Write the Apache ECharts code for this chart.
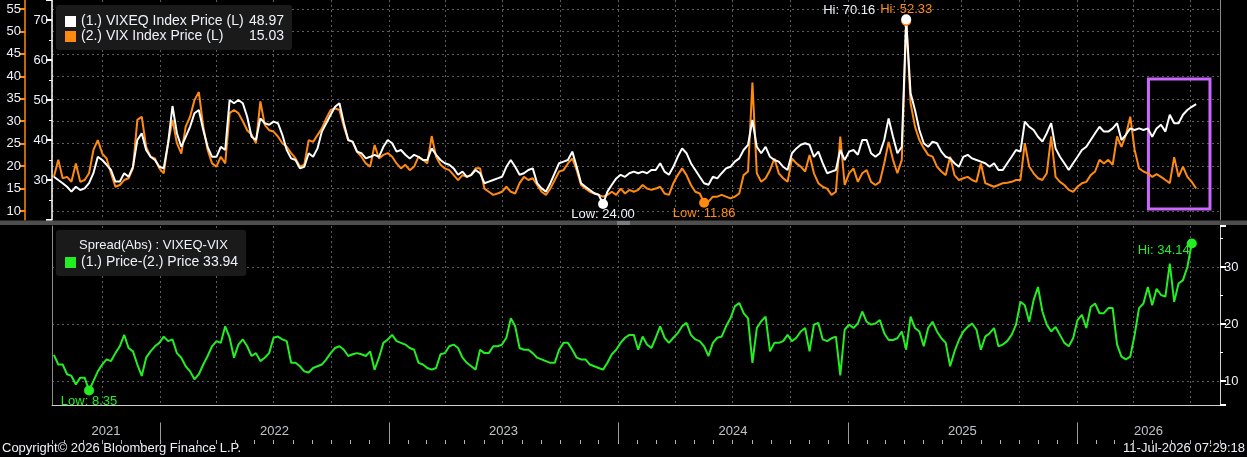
<!DOCTYPE html>
<html lang="en">
<head>
<meta charset="UTF-8">
<title>VIXEQ vs VIX</title>
<script src="https://cdn.jsdelivr.net/npm/echarts@6/dist/echarts.min.js"></script>
<style>
  html, body {margin:0; padding:0; background:#000;}
  #chart {width:1247px; height:457px;}
</style>
</head>
<body>
<div id="chart"></div>
<script>
// weekly closes, first one on 16-Jul-2021
var firstWeek = Date.UTC(2021, 6, 16);
var WEEK = 7 * 864e5;

var vixeq = [
  30.8,30.0,29.2,28.3,27.1,28.3,27.5,27.9,29.2,31.7,
  35.8,35.0,33.8,32.5,29.6,29.6,31.7,30.8,33.3,40.0,
  41.7,37.5,35.8,35.0,33.3,32.9,39.2,48.5,41.7,38.3,
  40.8,43.3,46.7,47.5,42.5,38.3,35.8,35.8,38.3,37.5,
  50.0,49.2,50.0,49.2,45.8,40.8,40.0,45.4,44.2,43.8,
  44.6,44.2,41.3,37.5,35.4,35.0,32.9,33.3,36.7,35.8,
  37.9,42.1,44.2,46.3,48.3,49.2,44.2,40.0,39.6,37.1,
  36.7,35.4,35.8,36.3,35.8,38.3,40.0,39.2,37.1,37.5,
  36.3,35.4,36.3,35.8,35.0,35.0,37.9,36.3,35.0,34.2,
  33.8,32.9,31.3,32.1,30.8,31.3,32.5,31.7,29.2,29.6,
  30.0,30.4,30.8,33.3,35.0,33.3,31.3,31.7,32.5,32.9,
  29.2,27.9,27.1,29.2,31.7,34.2,34.6,35.0,37.1,33.3,
  29.2,28.3,27.5,26.7,26.3,24.00,27.1,28.8,30.4,31.3,
  30.8,31.7,32.1,31.7,32.1,31.7,32.5,32.5,34.2,32.1,
  31.3,33.3,35.8,37.9,36.7,34.2,32.5,30.8,29.2,28.8,
  30.8,30.4,31.7,32.9,33.3,34.6,35.4,37.5,38.8,45.0,
  38.3,36.7,38.3,35.8,35.0,34.6,33.3,32.5,36.7,37.9,
  38.8,39.2,38.8,35.8,37.1,34.2,31.7,32.1,32.5,37.5,
  35.0,37.1,37.5,36.3,40.0,40.0,36.7,35.8,36.7,40.0,
  45.4,40.8,36.7,38.3,70.16,51.7,47.5,42.5,39.2,38.3,
  39.6,39.2,37.1,35.8,35.4,34.2,33.3,35.8,36.3,35.4,
  35.0,34.6,34.2,33.3,34.2,32.5,32.5,34.2,35.8,37.5,
  37.1,44.6,43.3,42.5,40.8,39.6,41.7,44.2,37.9,35.8,
  34.2,32.5,34.2,35.8,37.5,38.3,40.0,41.7,43.3,42.1,
  42.1,42.9,44.2,40.0,41.3,42.9,42.5,42.9,42.5,42.9,
  40.8,42.9,43.8,42.1,46.3,44.2,44.2,46.3,47.5,48.3,
  48.97
];

var vix = [
  17.6,21.4,17.3,17.6,16.5,20.6,16.5,16.9,18.4,23.6,
  25.8,22.8,21.7,18.4,15.4,15.8,16.9,17.3,19.5,30.3,
  31.0,24.3,22.1,21.7,19.5,18.4,25.1,30.3,25.1,22.8,
  28.8,31.0,34.7,36.5,28.8,23.6,20.6,19.9,22.1,20.6,
  31.8,32.5,31.8,30.0,28.0,27.0,25.1,34.4,29.2,28.0,
  27.7,26.6,25.1,24.3,22.9,21.7,19.9,20.3,25.8,25.4,
  26.9,28.4,30.6,32.5,32.9,32.5,28.8,25.8,25.4,23.2,
  22.1,20.6,19.9,24.7,21.7,22.5,22.9,22.1,20.6,19.5,
  20.3,19.1,19.9,22.1,21.4,20.6,26.7,22.1,20.3,19.5,
  19.1,18.0,16.9,18.0,17.6,18.0,19.5,19.5,15.0,14.3,
  13.6,13.9,14.3,15.4,14.3,13.9,16.2,17.6,16.9,17.3,
  15.8,14.3,13.6,15.0,16.9,18.8,19.1,20.6,21.7,19.1,
  15.8,15.0,14.3,13.9,13.6,13.2,13.6,14.3,13.6,15.0,
  13.9,14.7,14.3,14.7,15.8,15.0,14.7,15.0,15.4,13.9,
  13.6,16.2,18.0,19.5,18.0,15.8,14.3,13.9,11.86,12.1,
  13.2,13.2,13.6,13.2,12.8,13.2,13.9,18.0,18.8,38.6,
  18.4,16.5,17.3,19.1,21.7,18.4,17.3,16.5,21.7,20.6,
  19.9,18.8,22.5,18.4,16.2,15.4,15.0,13.6,14.3,26.6,
  15.8,18.4,19.5,16.5,18.4,19.1,16.5,15.8,16.5,20.6,
  25.4,21.4,18.4,21.4,52.33,34.0,28.8,25.8,24.0,22.5,
  22.1,19.9,18.8,18.0,22.1,18.0,16.9,17.3,17.6,16.9,
  16.5,20.6,16.2,15.8,15.4,15.8,16.2,16.3,16.5,16.9,
  16.9,25.1,19.9,18.4,17.3,16.9,18.4,26.6,17.6,16.5,
  15.8,14.7,14.3,15.4,16.2,16.5,18.0,18.8,21.4,20.6,
  21.4,20.3,26.6,24.3,26.9,31.0,23.6,19.5,18.8,18.4,
  17.6,18.2,17.6,16.9,16.2,22.0,17.6,19.9,17.6,16.5,
  15.03
];

var spread = [
  14.6,12.9,12.9,11.2,10.9,9.4,10.6,10.6,8.35,10.0,
  11.7,12.9,13.8,13.5,14.9,16.1,18.1,15.8,15.2,12.9,
  10.9,14.1,15.2,16.1,16.7,17.8,17.0,17.3,14.9,14.1,
  12.6,11.7,10.3,11.2,12.9,14.4,16.1,17.0,16.7,19.6,
  17.6,14.1,16.4,17.3,16.1,14.4,14.9,13.5,14.1,14.9,
  17.6,17.8,17.3,17.0,13.2,13.2,12.6,11.7,11.5,12.3,
  12.6,12.9,13.8,14.9,15.8,16.1,15.5,14.4,14.7,14.9,
  14.7,14.4,15.2,12.0,14.1,16.7,17.3,18.1,17.0,16.7,
  16.4,15.8,15.5,13.2,12.9,12.3,12.0,12.3,14.7,14.9,
  16.1,16.4,15.8,14.1,13.2,12.6,12.0,15.5,14.9,14.9,
  16.1,16.1,16.4,17.6,21.0,19.6,15.8,15.5,15.5,14.9,
  14.1,13.8,13.5,13.2,13.2,15.5,16.7,16.7,15.5,14.1,
  13.8,13.8,12.9,12.6,12.3,12.0,13.2,14.7,15.5,16.7,
  17.6,18.1,18.1,15.5,17.8,16.4,15.8,17.6,19.6,17.6,
  16.7,17.6,18.4,19.6,20.2,18.1,17.3,17.0,16.1,14.4,
  16.7,17.6,17.8,19.6,21.0,23.1,23.7,21.9,21.0,13.2,
  19.3,20.5,21.3,15.2,16.7,16.7,17.0,18.1,17.0,17.6,
  18.7,19.3,15.2,19.9,20.2,17.3,17.0,17.5,17.8,11.0,
  19.0,19.9,19.3,20.1,22.2,20.4,19.9,20.1,20.7,18.4,
  17.2,17.2,17.5,18.7,15.5,21.3,19.3,18.7,16.1,19.3,
  20.4,18.7,17.5,16.7,12.6,15.2,17.2,18.7,19.5,20.1,
  19.0,15.5,17.8,18.4,19.3,16.1,16.4,17.0,18.1,19.9,
  23.9,23.3,20.4,24.2,26.5,22.2,19.9,18.7,19.5,18.1,
  16.7,16.1,17.5,20.7,21.6,19.3,23.0,23.6,21.9,21.9,
  22.8,22.8,16.4,14.3,13.8,14.3,18.1,22.8,23.6,26.5,
  23.3,26.2,25.1,24.8,30.6,23.9,27.1,27.7,30.0,34.14,
  33.94
];

var years = ['2021', '2022', '2023', '2024', '2025', '2026'];
var xMin = Date.UTC(2021, 6, 13);
var xMax = Date.UTC(2026, 7, 17);
// highlighted box, in data units of the VIXEQ axis
var boxFrom = [Date.UTC(2026, 3, 25), 55.25];
var boxTo = [Date.UTC(2026, 7, 1), 22.75];

var nameW = '(1.) VIXEQ Index Price (L)';
var nameO = '(2.) VIX Index Price (L)';
var nameS = '(1.) Price-(2.) Price';

var FONT = '"Liberation Sans", Arial, sans-serif';
var WHITE = '#ffffff', ORANGE = '#ff8a10', GREEN = '#22ee22', TXT = '#eef2f8';
var GRIDLINE = {show: true, lineStyle: {color: '#5c5c5c', type: [2, 3], width: 1}};

function toPairs(arr) {
  return arr.map(function (v, i) { return [firstWeek + i * WEEK, v]; });
}
function last(arr) { return arr[arr.length - 1].toFixed(2); }
function fmt(prefix) { return function (p) { return prefix + p.value.toFixed(2); }; }

var yearStarts = years.map(function (y) { return Date.UTC(+y, 0, 1); });
var yearMarks = years.map(function (y, i) {
  var a = Math.max(yearStarts[i], xMin);
  var b = Math.min(Date.UTC(+y + 1, 0, 1), xMax);
  return {name: y, value: [(a + b) / 2, 0.25]};
});
var yearSeps = yearStarts.slice(1).map(function (t) {
  return [{coord: [t, 0]}, {coord: [t, 0.5]}];
});

var lastVals = {};
lastVals[nameW] = last(vixeq);
lastVals[nameO] = last(vix);

function timeAxis(grid, extra) {
  var ax = {
    type: 'time', gridIndex: grid, min: xMin, max: xMax,
    minInterval: 91 * 864e5, maxInterval: 91 * 864e5,
    axisLine: {show: false}, axisTick: {show: false}, axisLabel: {show: false},
    splitLine: GRIDLINE
  };
  for (var k in extra) ax[k] = extra[k];
  return ax;
}

var chart = echarts.init(document.getElementById('chart'));
var option = {
  backgroundColor: '#000',
  animation: false,
  useUTC: true,
  textStyle: {fontFamily: FONT},
  title: {
    text: 'Spread(Abs) : VIXEQ-VIX', left: 79, top: 239, padding: 0,
    textStyle: {color: TXT, fontSize: 13, fontWeight: 'normal', fontFamily: FONT}
  },
  legend: [
    {
      data: [nameW, nameO], left: 56, top: 5, orient: 'vertical',
      backgroundColor: '#1a1a1a', borderRadius: 3, padding: [9, 8, 6, 9],
      itemWidth: 11, itemHeight: 11, itemGap: 0, icon: 'rect', selectedMode: false,
      formatter: function (n) { return '{n|' + n + '}{v|' + lastVals[n] + '}'; },
      textStyle: {
        color: TXT, fontSize: 14, lineHeight: 15, fontFamily: FONT,
        rich: {n: {width: 168, color: TXT, fontSize: 14, fontFamily: FONT}, v: {color: TXT, fontSize: 14, fontFamily: FONT}}
      }
    },
    {
      data: [nameS], left: 56, top: 230, orient: 'vertical',
      backgroundColor: '#1a1a1a', borderRadius: 3, padding: [25, 8, 6, 9],
      itemWidth: 11, itemHeight: 11, icon: 'rect', selectedMode: false,
      formatter: function (n) { return n + ' ' + last(spread); },
      textStyle: {color: TXT, fontSize: 14, lineHeight: 15, fontFamily: FONT}
    }
  ],
  grid: [
    {left: 52, right: 27, top: 0, height: 220},
    {left: 52, right: 27, top: 226, height: 179},
    {left: 52, right: 27, top: 405, height: 35}
  ],
  xAxis: [
    timeAxis(0, {}),
    timeAxis(1, {axisLine: {show: true, lineStyle: {color: '#d0d0d0', width: 1}}}),
    timeAxis(2, {
      position: 'top', splitLine: {show: false},
      minInterval: 30 * 864e5, maxInterval: 30 * 864e5,
      axisTick: {show: true, inside: true, length: 4, lineStyle: {color: '#b0b0b0'}}
    })
  ],
  yAxis: [
    { // VIX, far left
      type: 'value', gridIndex: 0, position: 'left', offset: 27,
      min: 8, max: 57, splitNumber: 10,
      axisLine: {show: true, lineStyle: {color: ORANGE, width: 1.5}},
      axisTick: {show: true, length: 5, lineStyle: {color: ORANGE, width: 2}},
      axisLabel: {color: TXT, fontSize: 13, margin: 4, showMinLabel: false, showMaxLabel: false},
      splitLine: {show: true, showMinLine: false, showMaxLine: false, lineStyle: {color: '#5c5c5c', type: [2, 3]}}
    },
    { // VIXEQ
      type: 'value', gridIndex: 0, position: 'left',
      min: 20, max: 75, interval: 10,
      axisLine: {show: true, lineStyle: {color: WHITE, width: 1.5}},
      axisTick: {show: true, length: 6, lineStyle: {color: WHITE, width: 2}},
      minorTick: {show: true, splitNumber: 2, length: 3, lineStyle: {color: WHITE}},
      axisLabel: {color: TXT, fontSize: 13, margin: 4, showMinLabel: false, showMaxLabel: false},
      splitLine: {show: false}
    },
    { // right border of top panel
      type: 'value', gridIndex: 0, position: 'right', min: 0, max: 1,
      axisLine: {show: true, lineStyle: {color: '#8a8a8a'}},
      axisTick: {show: false}, axisLabel: {show: false}, splitLine: {show: false}
    },
    { // left border of lower panel
      type: 'value', gridIndex: 1, position: 'left', min: 0, max: 1,
      axisLine: {show: true, lineStyle: {color: '#8a8a8a'}},
      axisTick: {show: false}, axisLabel: {show: false}, splitLine: {show: false}
    },
    { // spread, right
      type: 'value', gridIndex: 1, position: 'right',
      min: 5.8, max: 37.2, splitNumber: 3,
      axisLine: {show: true, lineStyle: {color: '#d0d0d0'}},
      axisTick: {show: true, length: 6, lineStyle: {color: WHITE, width: 2}},
      minorTick: {show: true, splitNumber: 2, length: 3, lineStyle: {color: WHITE}},
      axisLabel: {color: TXT, fontSize: 13, margin: 4, showMinLabel: false, showMaxLabel: false},
      splitLine: {show: true, showMinLine: false, showMaxLine: false, lineStyle: {color: '#5c5c5c', type: [2, 3]}}
    },
    { // label band
      type: 'value', gridIndex: 2, min: 0, max: 1, show: false
    }
  ],
  series: [
    {
      name: nameO, type: 'line', xAxisIndex: 0, yAxisIndex: 0,
      data: toPairs(vix), symbol: 'none',
      lineStyle: {color: ORANGE, width: 2}, itemStyle: {color: ORANGE},
      markPoint: {
        symbol: 'circle', symbolSize: 10, itemStyle: {color: ORANGE},
        label: {color: ORANGE, fontSize: 13, fontFamily: FONT},
        data: [
          {type: 'max', label: {position: 'top', distance: 5, offset: [0, 5], formatter: fmt('Hi: ')}},
          {type: 'min', label: {position: 'bottom', distance: 2, offset: [0, -3], formatter: fmt('Low: ')}}
        ]
      }
    },
    {
      name: nameW, type: 'line', xAxisIndex: 0, yAxisIndex: 1,
      data: toPairs(vixeq), symbol: 'none',
      lineStyle: {color: WHITE, width: 2}, itemStyle: {color: WHITE},
      markPoint: {
        symbol: 'circle', symbolSize: 10, itemStyle: {color: WHITE},
        label: {color: TXT, fontSize: 13, fontFamily: FONT},
        data: [
          {type: 'max', label: {position: 'top', distance: 5, offset: [-57, 8], formatter: fmt('Hi: ')}},
          {type: 'min', label: {position: 'bottom', distance: 2, offset: [0, -3], formatter: fmt('Low: ')}}
        ]
      },
      markArea: {
        silent: true,
        itemStyle: {color: 'rgba(0,0,0,0)', borderColor: '#cc66ff', borderWidth: 3},
        data: [[{coord: boxFrom}, {coord: boxTo}]]
      }
    },
    {
      name: nameS, type: 'line', xAxisIndex: 1, yAxisIndex: 4,
      data: toPairs(spread), symbol: 'none',
      lineStyle: {color: GREEN, width: 2}, itemStyle: {color: GREEN},
      markPoint: {
        symbol: 'circle', symbolSize: 10, itemStyle: {color: GREEN},
        label: {color: GREEN, fontSize: 13, fontFamily: FONT},
        data: [
          {type: 'max', label: {position: 'left', distance: 0, offset: [3, 7], formatter: fmt('Hi: ')}},
          {type: 'min', label: {position: 'bottom', distance: 2, offset: [0, -3], formatter: fmt('Low: ')}}
        ]
      }
    },
    {
      name: 'years', type: 'scatter', xAxisIndex: 2, yAxisIndex: 5,
      data: yearMarks, symbolSize: 1, itemStyle: {color: 'rgba(0,0,0,0)'}, silent: true,
      label: {show: true, position: 'inside', formatter: '{b}', color: TXT, fontSize: 13, fontFamily: FONT},
      markLine: {
        silent: true, symbol: ['none', 'none'], label: {show: false},
        lineStyle: {color: '#9a9a9a', width: 1, type: 'solid'},
        data: yearSeps
      }
    }
  ],
  graphic: [
    {type: 'rect', left: 0, top: 220.5, shape: {width: 1247, height: 4.5}, style: {fill: '#4e4e4e'}, z: 1},
    {type: 'line', shape: {x1: 617, y1: 222, x2: 630, y2: 222}, style: {stroke: '#aaaaaa', lineWidth: 1}, z: 2},
    {type: 'line', shape: {x1: 617, y1: 224, x2: 630, y2: 224}, style: {stroke: '#aaaaaa', lineWidth: 1}, z: 2},
    {type: 'text', left: 2, top: 442, style: {text: 'Copyright\u00a9 2026 Bloomberg Finance L.P.', fill: TXT, font: '13px ' + FONT}},
    {type: 'text', right: 2, top: 442, style: {text: '11-Jul-2026 07:29:18', fill: TXT, font: '13px ' + FONT}}
  ]
};
chart.setOption(option);
</script>
</body>
</html>
